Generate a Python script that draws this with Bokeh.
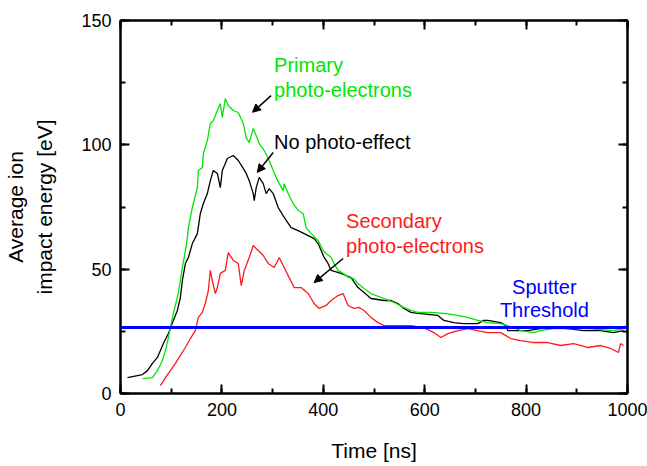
from bokeh.plotting import figure
from bokeh.models import (Range1d, LinearAxis, SingleIntervalTicker, Span,
                          Label, Arrow, NormalHead)
from bokeh.embed import file_html
from bokeh.resources import INLINE

# Average ion impact energy vs. time for three photo-electron cases
black_t = [13.8, 43.3, 53.1, 63, 72.8, 84.6, 94.5, 104.3, 112.2, 118.1, 122, 128,
           133.9, 141.7, 151.6, 157.5, 163.4, 171.3, 177.2, 183.1, 191, 196.9,
           200.8, 206.7, 210.6, 222.4, 232.3, 242.1, 248, 253.9, 261.8, 263.8,
           267.7, 273.6, 281.5, 287.4, 293.3, 301.2, 311, 322.8, 336.6, 350.4,
           362.2, 381.9, 389.8, 401.6, 409.4, 415.4, 435, 454.7, 468.5, 480.3,
           494.1, 519.7, 533.5, 547.2, 559.1, 572.8, 586.6, 626, 637.8, 657.5,
           677.2, 704.7, 716.5, 724.4, 750, 759.8, 763.8, 803.1, 828.7, 854.3,
           881.9, 913.4, 946.9, 972.4, 992]
black_e = [6.4, 7.6, 9.2, 12.1, 14.5, 20.1, 24.1, 29.4, 33.4, 38.6, 45.4, 52.3,
           54.7, 60.3, 64.3, 72.4, 76.4, 80.4, 85.6, 89.7, 88.5, 82.8,
           89.7, 92.5, 94.5, 95.7, 93.7, 90.5, 88.5, 85.6, 80.4, 77.6,
           82.8, 86.9, 84.4, 80.4, 82.4, 80.4, 74.8, 70.8, 66.7, 65.5,
           64.3, 62.3, 60.3, 54.7, 52.3, 49.5, 48.3, 46.6, 42.6, 40.6,
           38.2, 37.4, 37.4, 36.2, 34.2, 32.6, 32.2, 31.4, 29.4, 28.5,
           28.1, 28.1, 29.4, 29.4, 28.5, 27.3, 25.3, 25.3, 26.1, 26.5,
           26.1, 25.3, 25.3, 24.5, 25.3]

green_t = [43.3, 63, 72.8, 82.7, 88.6, 94.5, 98.4, 104.3, 112.2, 118.1, 122, 128,
           131.9, 133.9, 141.7, 151.6, 153.5, 161.4, 163.4, 171.3, 177.2, 183.1,
           191, 196.9, 200.8, 206.7, 212.6, 222.4, 232.3, 242.1, 248, 253.9,
           261.8, 267.7, 273.6, 283.5, 293.3, 301.2, 307.1, 313, 320.9, 322.8,
           330.7, 340.6, 350.4, 360.2, 366.1, 376, 389.8, 399.6, 405.5, 415.4,
           421.3, 429.1, 439, 450.8, 460.6, 468.5, 480.3, 494.1, 519.7, 539.4,
           559.1, 572.8, 586.6, 612.2, 637.8, 665.4, 685, 704.7, 724.4, 750,
           775.6, 789.4, 815, 828.7, 854.3, 921.3, 972.4, 992.1, 996]
green_e = [6.0, 6.4, 9.2, 13.3, 17.3, 22.5, 26.5, 32.2, 38.6, 45.4, 50.7, 57.5,
           62.7, 66.7, 74.8, 82.8, 89.7, 90.9, 96.5, 101.7, 108.6, 109.8,
           113.8, 116.6, 111, 118.6, 115.8, 113.8, 113, 108.6, 102.9, 100.9,
           106.6, 103.7, 100.5, 97.7, 93.7, 89.7, 86.9, 84.4, 81.6, 84.4,
           80.4, 76.4, 73.6, 72.4, 66.7, 64.3, 61.5, 57.5, 56.3, 54.7,
           52.3, 49.5, 48.3, 46.6, 46.2, 44.2, 42.2, 40.2, 38.2, 36.6,
           34.6, 33.4, 32.6, 32.6, 32.2, 31.4, 30.6, 29.4, 28.5, 28.1,
           26.5, 25.3, 24.5, 25.3, 26.1, 26.1, 25.3, 26.1, 27.3]

red_t = [78.7, 88.6, 98.4, 108.3, 118.1, 128, 137.8, 147.6, 153.5, 161.4, 167.3,
         173.2, 177.2, 181.1, 187, 191, 196.9, 206.7, 212.6, 222.4, 232.3, 238.2,
         244.1, 253.9, 261.8, 271.7, 281.5, 291.3, 303.1, 313, 322.8, 332.7,
         342.5, 356.3, 370.1, 381.9, 391.7, 405.5, 415.4, 429.1, 439, 448.8,
         460.6, 470.5, 480.3, 494.1, 507.9, 519.7, 547.2, 572.8, 598.4, 618.1,
         631.9, 645.7, 665.4, 685, 704.7, 724.4, 750, 769.7, 789.4, 815, 842.5,
         868.1, 893.7, 921.3, 946.9, 966.5, 982.3, 986.2, 992.1]
red_e = [3.2, 6.4, 9.2, 12.1, 15.3, 18.5, 22.1, 25.3, 30.6, 32.6, 36.2,
         41.4, 49.5, 45.4, 40.2, 42.6, 48.3, 49.5, 56.7, 53.5, 52.3, 43.4,
         49.5, 54.7, 59.5, 57.5, 55.5, 52.3, 50.7, 54.7, 50.7, 46.6,
         42.6, 42.6, 40.2, 36.2, 34.2, 35.4, 37.4, 39.4, 40.2, 35.4,
         34.2, 34.6, 33.4, 30.6, 28.5, 27.3, 27.3, 27.3, 26.5, 24.5,
         22.5, 24.1, 25.3, 26.1, 25.3, 24.5, 24.5, 22.1, 21.3, 20.5, 20.5,
         19.3, 20.1, 18.5, 19.3, 18.1, 16.5, 20.1, 19.3]

sputter_threshold = 26.5

x_ticks = [0, 200, 400, 600, 800, 1000]
y_ticks = [0, 50, 100, 150]

GREEN = "#00e600"
RED = "#ff1a1a"
BLUE = "#0000ff"
FONT = "Liberation Sans"

p = figure(width=647, height=466, output_backend="svg", toolbar_location=None,
           x_range=Range1d(0, 1000), y_range=Range1d(0, 150),
           min_border_left=119, min_border_right=20, min_border_top=20,
           min_border_bottom=73, outline_line_color=None,
           background_fill_color="white", border_fill_color="white")
p.xgrid.visible = False
p.ygrid.visible = False


def style_axis(ax, show_labels, ticks):
    ax.axis_line_width = 2.5
    ax.axis_line_color = "black"
    ax.major_tick_in = 9
    ax.major_tick_out = 0
    ax.minor_tick_in = 5
    ax.minor_tick_out = 0
    ax.major_tick_line_width = 2
    ax.minor_tick_line_width = 2
    ax.major_tick_line_color = "black"
    ax.minor_tick_line_color = "black"
    ax.major_label_text_font = FONT
    if show_labels:
        ax.major_label_text_font_size = "18px"
        ax.major_label_text_color = "black"
        ax.major_label_standoff = 9
    else:
        ax.major_label_overrides = {t: "" for t in ticks}
        ax.major_label_standoff = 0


p.xaxis.ticker = SingleIntervalTicker(interval=200, num_minor_ticks=2)
p.yaxis.ticker = SingleIntervalTicker(interval=50, num_minor_ticks=2)
style_axis(p.xaxis[0], True, x_ticks)
style_axis(p.yaxis[0], True, y_ticks)
p.xaxis.axis_label = "Time [ns]"
p.xaxis.axis_label_text_font = FONT
p.xaxis.axis_label_text_font_size = "21px"
p.xaxis.axis_label_text_font_style = "normal"
p.xaxis.axis_label_text_color = "black"
p.xaxis.axis_label_standoff = 20

# y axis title: second line on the main axis, first line on a bare outer axis
p.yaxis.axis_label = "impact energy [eV]"
p.yaxis.axis_label_text_font = FONT
p.yaxis.axis_label_text_font_size = "21px"
p.yaxis.axis_label_text_font_style = "normal"
p.yaxis.axis_label_text_color = "black"
p.yaxis.axis_label_standoff = 22

outer = LinearAxis(ticker=SingleIntervalTicker(interval=50),
                   axis_line_color=None, major_tick_line_color=None,
                   minor_tick_line_color=None, major_tick_in=0,
                   major_tick_out=0, minor_tick_in=0, minor_tick_out=0,
                   major_label_standoff=0,
                   major_label_overrides={t: "" for t in y_ticks},
                   axis_label="Average ion", axis_label_text_font=FONT,
                   axis_label_text_font_size="21px",
                   axis_label_text_font_style="normal",
                   axis_label_text_color="black", axis_label_standoff=4)
p.add_layout(outer, "left")

top = LinearAxis(ticker=SingleIntervalTicker(interval=200, num_minor_ticks=2))
right = LinearAxis(ticker=SingleIntervalTicker(interval=50, num_minor_ticks=2))
style_axis(top, False, x_ticks)
style_axis(right, False, y_ticks)
p.add_layout(top, "above")
p.add_layout(right, "right")

# curves
p.line(red_t, red_e, line_color=RED, line_width=1.3)
p.line(black_t, black_e, line_color="black", line_width=1.3)
p.line(green_t, green_e, line_color=GREEN, line_width=1.3)
p.add_layout(Span(location=sputter_threshold, dimension="width",
                  line_color=BLUE, line_width=3))

# annotations
notes = [
    (303, 132.3, "Primary", GREEN, "left"),
    (303, 122.2, "photo-electrons", GREEN, "left"),
    (303, 101.3, "No photo-effect", "black", "left"),
    (445, 69.2, "Secondary", RED, "left"),
    (445, 59.5, "photo-electrons", RED, "left"),
    (836, 43.0, "Sputter", BLUE, "center"),
    (836, 33.4, "Threshold", BLUE, "center"),
]
for xx, yy, txt, col, al in notes:
    p.add_layout(Label(x=xx, y=yy, text=txt, text_color=col,
                       text_align=al, text_baseline="middle",
                       text_font=FONT, text_font_size="20px"))

arrows = [(297, 119.8, 260.4, 113.1), (301.2, 96.9, 269.7, 88.9),
          (439, 54.3, 381.9, 44.6)]
for x0, y0, x1, y1 in arrows:
    p.add_layout(Arrow(x_start=x0, y_start=y0, x_end=x1, y_end=y1,
                       line_color="black", line_width=1.5,
                       end=NormalHead(size=8, fill_color="black",
                                      line_color="black")))

open("out.html", "w").write(file_html(p, INLINE))
